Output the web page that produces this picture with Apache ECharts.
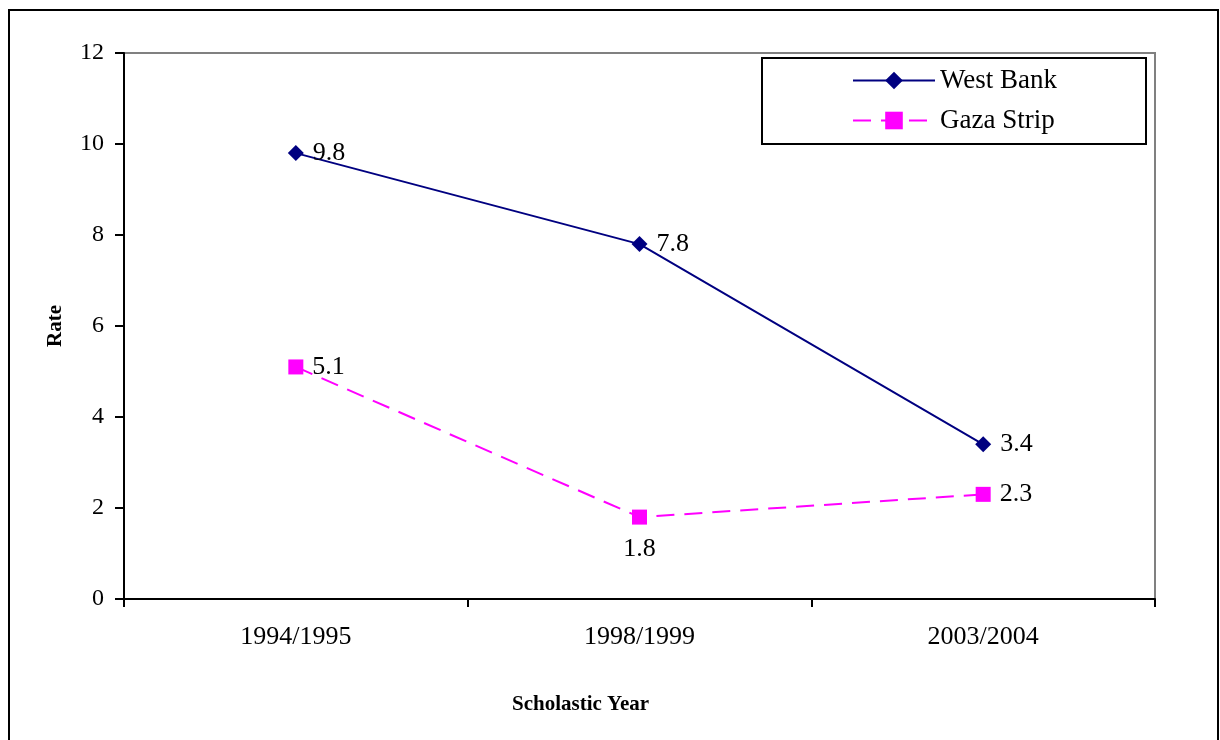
<!DOCTYPE html>
<html>
<head>
<meta charset="utf-8">
<script src="https://cdn.jsdelivr.net/npm/echarts@6/dist/echarts.min.js"></script>
<style>
  html, body { margin: 0; padding: 0; background: #fff; }
  #chart { width: 1220px; height: 740px; }
</style>
</head>
<body>
<div id="chart"></div>
<script>
// school years on the x axis
const years = ['1994/1995', '1998/1999', '2003/2004']
// rates
const westBank = [9.8, 7.8, 3.4]
const gazaStrip = [5.1, 1.8, 2.3]
// where the data label sits for each Gaza point
const gazaLabelPos = ['right', 'bottom', 'right']

const font = '"Liberation Serif", "Times New Roman", serif'

const chart = echarts.init(document.getElementById('chart'))

const option = {
  backgroundColor: '#fff',
  animation: false,
  textStyle: { fontFamily: font, color: '#000' },
  grid: {
    left: 124,
    right: 65,
    top: 53,
    bottom: 141,
    show: true,
    borderColor: '#808080',
    borderWidth: 2
  },
  graphic: [
    {
      // outer frame (runs off the bottom edge)
      type: 'rect',
      shape: { x: 9, y: 10, width: 1209, height: 760 },
      style: { fill: 'none', stroke: '#000', lineWidth: 2 },
      silent: true
    },
    {
      // legend box
      type: 'rect',
      shape: { x: 762, y: 58, width: 384, height: 86 },
      style: { fill: '#fff', stroke: '#000', lineWidth: 2 },
      z: 1,
      silent: true
    }
  ],
  legend: {
    left: 847,
    top: 62,
    orient: 'vertical',
    itemWidth: 82,
    itemHeight: 22,
    itemGap: 13,
    z: 5,
    textStyle: { fontFamily: font, fontSize: 27, color: '#000' },
    data: ['West Bank', 'Gaza Strip']
  },
  xAxis: {
    type: 'category',
    data: years,
    boundaryGap: true,
    name: 'Scholastic Year',
    nameLocation: 'middle',
    nameGap: 95,
    nameTextStyle: {
      fontFamily: font,
      fontSize: 21,
      fontWeight: 'bold',
      color: '#000',
      padding: [0, 118, 0, 0]
    },
    axisLine: { lineStyle: { color: '#000', width: 2 } },
    axisTick: { show: true, alignWithLabel: false, length: 8, lineStyle: { color: '#000', width: 2 } },
    axisLabel: { margin: 25, fontSize: 26, color: '#000', fontFamily: font },
    splitLine: { show: false }
  },
  yAxis: {
    type: 'value',
    min: 0,
    max: 12,
    interval: 2,
    name: 'Rate',
    nameLocation: 'middle',
    nameGap: 58,
    nameRotate: 90,
    nameTextStyle: { fontFamily: font, fontSize: 21, fontWeight: 'bold', color: '#000' },
    axisLine: { show: true, lineStyle: { color: '#000', width: 2 } },
    axisTick: { show: true, length: 9, lineStyle: { color: '#000', width: 2 } },
    axisLabel: { margin: 20, fontSize: 24, color: '#000', fontFamily: font },
    splitLine: { show: false }
  },
  series: [
    {
      name: 'West Bank',
      type: 'line',
      data: westBank,
      symbol: 'diamond',
      symbolSize: 16,
      color: '#000080',
      lineStyle: { color: '#000080', width: 2 },
      itemStyle: { color: '#000080' },
      label: {
        show: true,
        position: 'right',
        distance: 9,
        fontSize: 26,
        fontFamily: font,
        color: '#000'
      },
      z: 3
    },
    {
      name: 'Gaza Strip',
      type: 'line',
      data: gazaStrip.map((v, i) => ({
        value: v,
        label: { position: gazaLabelPos[i], distance: gazaLabelPos[i] === 'bottom' ? 12 : 9 }
      })),
      symbol: 'rect',
      symbolSize: 15,
      color: '#ff00ff',
      lineStyle: { color: '#ff00ff', width: 2, type: [18, 10] },
      itemStyle: { color: '#ff00ff' },
      label: {
        show: true,
        fontSize: 26,
        fontFamily: font,
        color: '#000'
      },
      z: 3
    }
  ]
}

chart.setOption(option)
</script>
</body>
</html>
